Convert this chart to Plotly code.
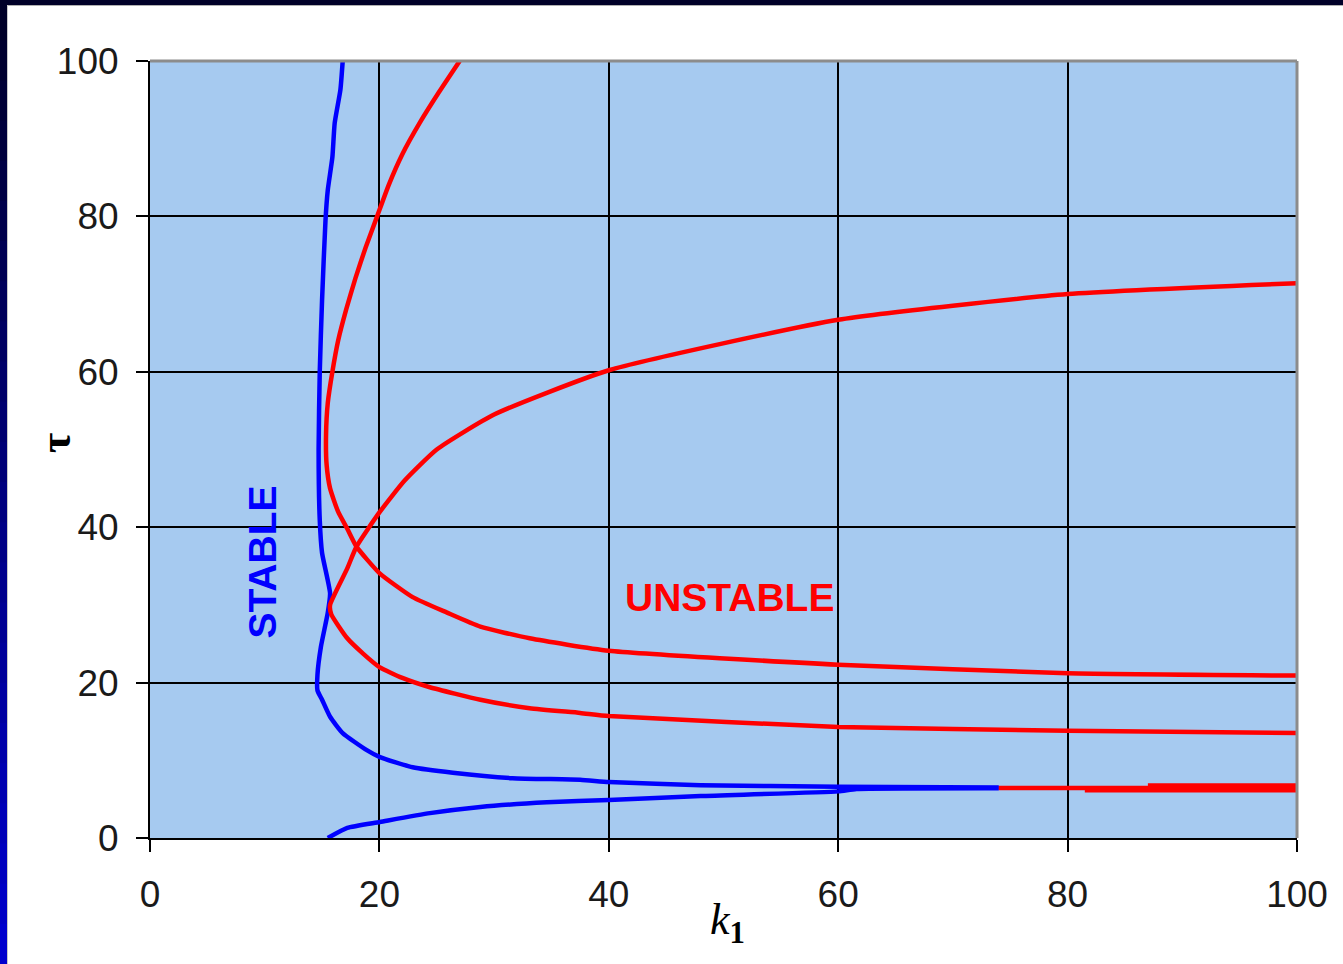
import plotly.graph_objects as go

# ---- data ----
blue_upper_k = [16.8, 16.6, 16.1, 15.9, 15.5, 15.3, 15.0, 14.8, 14.7, 14.8, 15.0, 15.7, 15.5, 14.9, 14.6, 14.6, 15.0, 15.7, 16.8, 18.9, 20.05, 22.9, 26.4, 31.6, 37.5, 40.0, 48.0, 60.0, 74.0]
blue_upper_t = [100, 96.3, 92.0, 87.6, 83.4, 79.5, 69.2, 60.0, 50.0, 40.9, 36.7, 31.5, 29.0, 24.6, 21.0, 19.0, 17.8, 15.6, 13.5, 11.3, 10.4, 9.1, 8.4, 7.7, 7.5, 7.2, 6.8, 6.6, 6.5]

blue_lower_k = [15.5, 17.2, 20.05, 24.4, 28.8, 34.6, 40.0, 48.0, 60.0, 61.6, 74.0]
blue_lower_t = [0.0, 1.3, 2.06, 3.2, 4.0, 4.6, 4.9, 5.4, 6.0, 6.3, 6.4]

red_tail_k = [74.0, 81.5, 100.0]
red_tail_t = [6.45, 6.45, 6.45]
red_tail2_k = [81.5, 87.0, 100.0]
red_tail2_t = [6.15, 6.15, 6.15]
red_tail3_k = [87.0, 100.0]
red_tail3_t = [6.75, 6.75]

red1_k = [27.0, 25.2, 23.5, 22.0, 20.8, 19.8, 18.8, 17.9, 17.1, 16.4, 15.9, 15.5, 15.35, 15.4, 15.7, 16.4, 17.2, 18.0, 20.0, 22.9, 25.9, 28.8, 33.1, 40.0, 60.0, 80.0, 100.0]
red1_t = [100, 96.0, 92.0, 88.0, 84.0, 80.0, 76.0, 72.0, 68.0, 64.0, 60.0, 56.0, 52.0, 48.0, 45.0, 42.0, 39.8, 37.5, 34.1, 31.0, 29.0, 27.2, 25.7, 24.1, 22.3, 21.2, 20.9]

red2_k = [100.0, 80.0, 60.0, 40.0, 30.0, 25.0, 22.2, 20.0, 18.0, 17.2, 15.7, 15.8, 17.2, 18.6, 20.0, 22.0, 24.4, 28.8, 33.1, 37.5, 40.0, 60.0, 80.0, 100.0]
red2_t = [71.4, 70.0, 66.7, 60.2, 54.5, 50.0, 46.0, 41.9, 37.5, 34.7, 30.0, 28.8, 25.7, 23.7, 22.0, 20.6, 19.4, 17.8, 16.7, 16.1, 15.7, 14.3, 13.8, 13.5]

x_ticks = [0, 20, 40, 60, 80, 100]
y_ticks = [0, 20, 40, 60, 80, 100]

BLUE = "#0000FF"
RED = "#FF0000"
LW = 4.5

fig = go.Figure()
for kx, ty, col in [
    (blue_upper_k, blue_upper_t, BLUE),
    (blue_lower_k, blue_lower_t, BLUE),
    (red_tail_k, red_tail_t, RED),
    (red_tail2_k, red_tail2_t, RED),
    (red_tail3_k, red_tail3_t, RED),
    (red1_k, red1_t, RED),
    (red2_k, red2_t, RED),
]:
    fig.add_trace(go.Scatter(x=kx, y=ty, mode="lines", line=dict(color=col, width=LW, shape="spline", smoothing=0.5),
                             hoverinfo="skip", showlegend=False, cliponaxis=True))

axis_common = dict(
    range=[0, 100], tickvals=x_ticks, showgrid=True, gridcolor="#000000", gridwidth=2,
    showline=True, linecolor="#000000", linewidth=2, ticks="outside", ticklen=12,
    tickcolor="#000000", tickwidth=2, zeroline=False,
    tickfont=dict(family="Liberation Sans, Arial, sans-serif", size=37, color="#1A1A1A"),
)
fig.update_xaxes(**axis_common, ticklabelstandoff=11)
fig.update_yaxes(**{**axis_common, "tickvals": y_ticks}, ticklabelstandoff=10)

W, H = 1343, 964
L, R, T, B = 150, 46, 61, 126
pw, ph = W - L - R, H - T - B


def px(xp):
    return (xp - L) / pw


def py(yp):
    return (H - B - yp) / ph


shapes = []
# top and right plot border (gray)
shapes.append(dict(type="line", xref="paper", yref="paper", x0=0, x1=1, y0=1, y1=1,
                   line=dict(color="#8C8C8C", width=3), layer="above"))
shapes.append(dict(type="line", xref="paper", yref="paper", x0=1, x1=1, y0=0, y1=1,
                   line=dict(color="#8C8C8C", width=3), layer="above"))
# frame: top dark bar
shapes.append(dict(type="rect", xref="paper", yref="paper", x0=px(0), x1=px(W), y0=py(5), y1=py(0),
                   fillcolor="#000028", line=dict(width=0), layer="above"))
shapes.append(dict(type="line", xref="paper", yref="paper", x0=px(0), x1=px(W), y0=py(5.5), y1=py(5.5),
                   line=dict(color="#B0B0B0", width=1), layer="above"))
# left bar gradient (navy -> blue)
n = 24
for i in range(n):
    f = i / (n - 1)
    b_ = int(40 + (205 - 40) * f)
    shapes.append(dict(type="rect", xref="paper", yref="paper", x0=px(0), x1=px(7),
                       y0=py(H * (i + 1) / n + 1), y1=py(H * i / n),
                       fillcolor=f"rgb(0,0,{b_})", line=dict(width=0), layer="above"))
shapes.append(dict(type="line", xref="paper", yref="paper", x0=px(7.5), x1=px(7.5), y0=py(H), y1=py(5),
                   line=dict(color="#C8C8C8", width=1), layer="above"))

annotations = [
    dict(text="<b>STABLE</b>", x=9.8, y=35.5, xref="x", yref="y", showarrow=False, textangle=-90,
         xanchor="center", yanchor="middle",
         font=dict(family="Liberation Sans, Arial, sans-serif", size=39, color=BLUE)),
    dict(text="<b>UNSTABLE</b>", x=50.5, y=30.9, xref="x", yref="y", showarrow=False,
         xanchor="center", yanchor="middle",
         font=dict(family="Liberation Sans, Arial, sans-serif", size=39, color=RED)),
    dict(text="<b>τ</b>", x=px(55), y=py(443), xref="paper", yref="paper", showarrow=False, textangle=-90,
         xanchor="center", yanchor="middle",
         font=dict(family="Liberation Serif, Times New Roman, serif", size=44, color="#000000")),
    dict(text="<i>k</i><sub><b>1</b></sub>", x=px(727), y=py(922), xref="paper", yref="paper", showarrow=False,
         xanchor="center", yanchor="middle",
         font=dict(family="Liberation Serif, Times New Roman, serif", size=44, color="#000000")),
]

fig.update_layout(
    width=W, height=H, autosize=False,
    margin=dict(l=L, r=R, t=T, b=B, pad=0),
    paper_bgcolor="#FFFFFF", plot_bgcolor="#A6CAF0",
    shapes=shapes, annotations=annotations, showlegend=False,
)

fig.write_html("out.html", config={"displayModeBar": False},
               post_script="document.body.style.margin='0px';document.body.style.overflow='hidden';")
